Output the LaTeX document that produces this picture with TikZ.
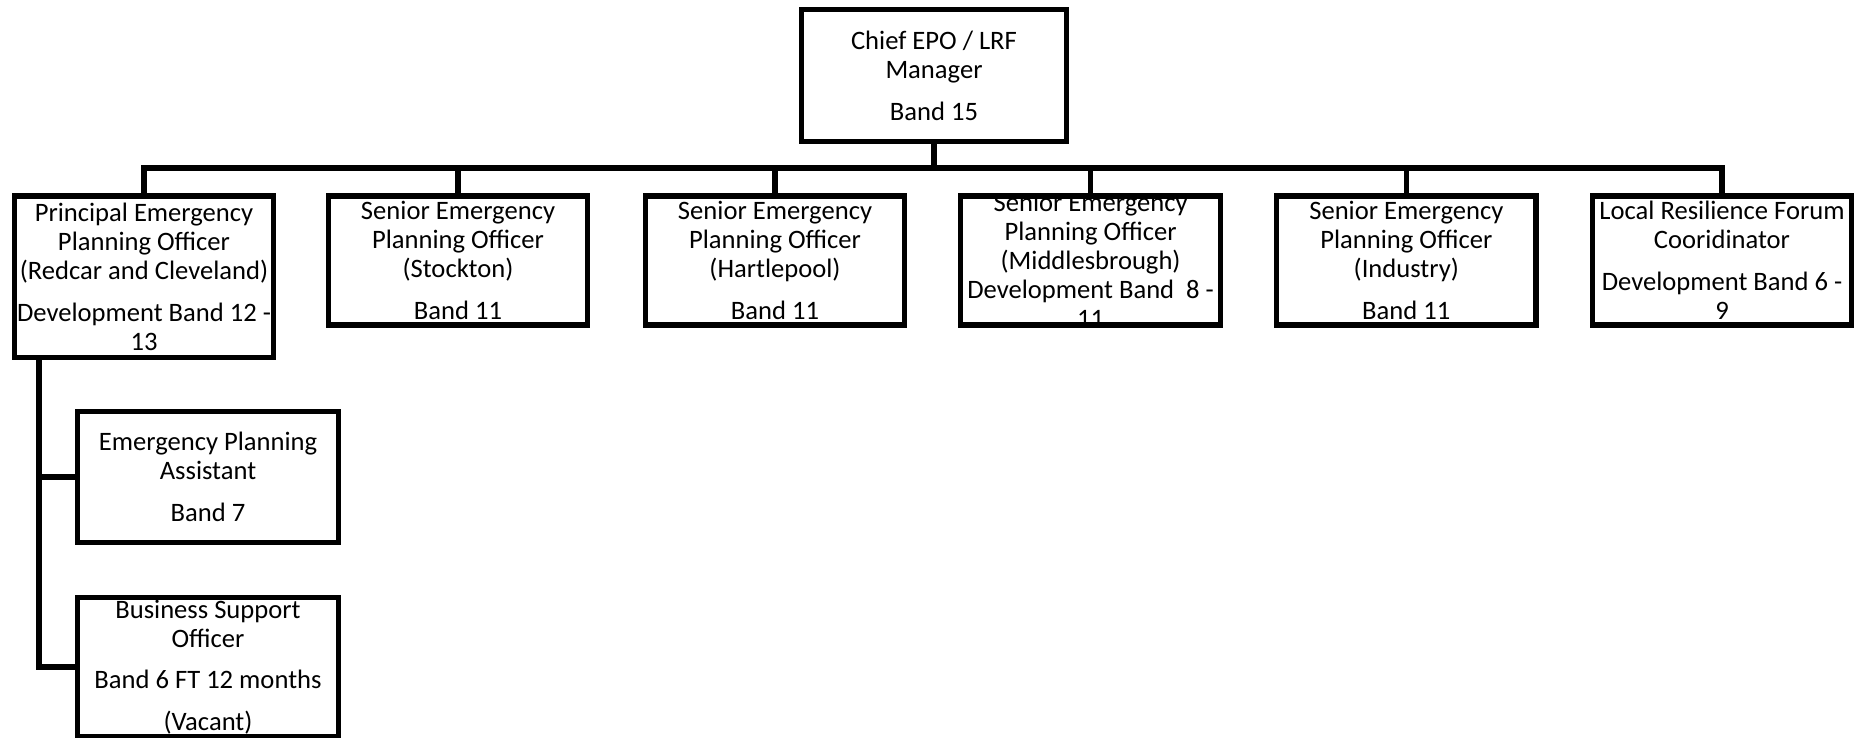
\documentclass[tikz,border=0pt]{standalone}
\usepackage{fontspec}
\setmainfont{Carlito}
\usepackage{tikz}

\begin{document}
\begin{tikzpicture}[x=0.5pt, y=-0.5pt,
  post/.style={draw, line width=2.6pt, minimum width=129.75pt, minimum height=64.5pt,
    inner sep=0pt, align=center, font=\fontsize{13.3}{14.5}\selectfont},
  words/.style={inner sep=0pt, align=center, font=\fontsize{13.3}{14.5}\selectfont},
  link/.style={line width=2.6pt}]
\useasboundingbox (0,0) rectangle (1863,738);
\node[post, minimum width=132.3pt, minimum height=66pt] (chief) at (934,75.7)
  {Chief EPO / LRF\\Manager\\[6.25pt]Band 15};
\node[post, minimum height=80.75pt] (redcar) at (144,276.7)
  {Principal Emergency\\Planning Officer\\(Redcar and Cleveland)\\[6.25pt]Development Band 12 -\\13};
\node[post] (stockton) at (458,260.5)
  {Senior Emergency\\Planning Officer\\(Stockton)\\[6.25pt]Band 11};
\node[post] (hartlepool) at (775,260.5)
  {Senior Emergency\\Planning Officer\\(Hartlepool)\\[6.25pt]Band 11};
\node[post] (mbro) at (1090.6,260.5) {};
\begin{scope}
\clip (mbro.south west) rectangle (mbro.north east);
\node[words] (mbrotext) at (mbro.center)
  {Senior Emergency\\Planning Officer\\(Middlesbrough)\\Development Band\ \ 8 -\\11};
\end{scope}
\node[post] (industry) at (1406.3,260.5)
  {Senior Emergency\\Planning Officer\\(Industry)\\[6.25pt]Band 11};
\node[post] (lrf) at (1722,260.5)
  {Local Resilience Forum\\Cooridinator\\[6.25pt]Development Band 6 -\\9};
\node[post, minimum width=130.4pt, minimum height=65.5pt] (epa) at (208,477)
  {Emergency Planning\\Assistant\\[6.25pt]Band 7};
\node[post, minimum width=130.4pt, minimum height=69.75pt] (bso) at (208,667)
  {Business Support\\Officer\\[6.25pt]Band 6 FT 12 months\\[6.25pt](Vacant)};
\coordinate (bus) at (0,168);
\coordinate (trunk) at (39,0);
\draw[link] (redcar.north) -- (redcar.north |- bus) -| (lrf.north);
\draw[link] (chief.south) -- (chief.south |- bus);
\foreach \n in {stockton,hartlepool,mbro,industry}
  \draw[link] (\n.north) -- (\n.north |- bus);
\draw[link] (trunk |- redcar.south) |- (bso.west);
\draw[link] (trunk |- epa.west) -- (epa.west);
\end{tikzpicture}
\end{document}
